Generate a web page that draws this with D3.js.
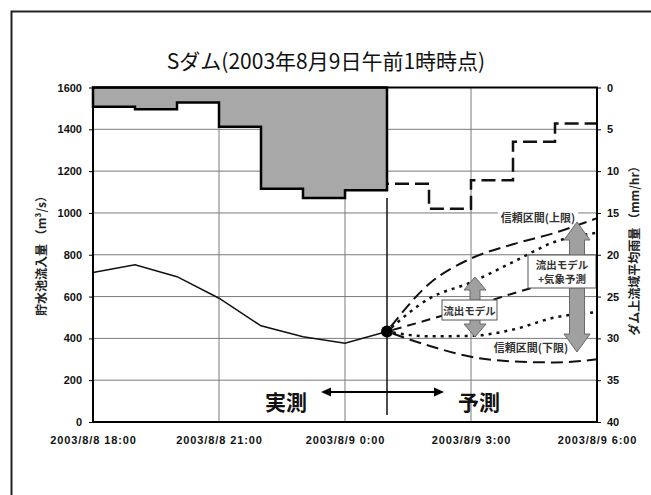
<!DOCTYPE html>
<html>
<head>
<meta charset="utf-8">
<script src="https://cdn.jsdelivr.net/npm/d3@7"></script>
<style>
  html, body { margin: 0; padding: 0; background: #fff; }
  svg { display: block; }
</style>
</head>
<body>
<svg id="chart" width="651" height="495"></svg>
<script>
// ---- data ----
const obsTimes = ["2003-08-08 18:00", "2003-08-08 19:00", "2003-08-08 20:00", "2003-08-08 21:00",
                  "2003-08-08 22:00", "2003-08-08 23:00", "2003-08-09 00:00", "2003-08-09 01:00"];
const inflowObs = [715, 752, 695, 592, 460, 408, 377, 433];          // m3/s
const rainObs = [2.3, 2.6, 1.8, 4.7, 12.1, 13.2, 12.3];               // mm/hr, hour starting at obsTimes[i]

const fcstTimes = ["2003-08-09 01:00", "2003-08-09 02:00", "2003-08-09 03:00",
                   "2003-08-09 04:00", "2003-08-09 05:00", "2003-08-09 06:00"];
const rainFcst = [11.5, 14.5, 11.1, 6.5, 4.3];                          // mm/hr, hour starting at fcstTimes[i]
const upperCI  = [433, 660, 782, 850, 905, 975];
const upperDot = [433, 590, 668, 765, 862, 905];
const midModel = [433, 490, 550, 615, 670, 710];
const lowerDot = [433, 410, 412, 442, 500, 525];
const lowerCI  = [433, 365, 312, 290, 285, 300];

const tickTimes  = ["2003-08-08 18:00", "2003-08-08 21:00", "2003-08-09 00:00", "2003-08-09 03:00", "2003-08-09 06:00"];
const tickLabels = ["2003/8/8 18:00", "2003/8/8 21:00", "2003/8/9 0:00", "2003/8/9 3:00", "2003/8/9 6:00"];
const yTicks = [0, 200, 400, 600, 800, 1000, 1200, 1400, 1600];
const rTicks = [0, 5, 10, 15, 20, 25, 30, 35, 40];

// ---- layout ----
const svg = d3.select("#chart");
const L = 93, R = 597, T = 87.5, B = 422;
const parse = d3.timeParse("%Y-%m-%d %H:%M");
const x = d3.scaleTime().domain([parse(tickTimes[0]), parse(tickTimes[tickTimes.length - 1])]).range([L, R]);
const y = d3.scaleLinear().domain([0, 1600]).range([B, T]);
const yR = d3.scaleLinear().domain([0, 40]).range([T, B]);
const JP = "'Noto Sans CJK JP', 'Noto Sans CJK SC', sans-serif";
const NUM = "'Liberation Sans', Arial, sans-serif";

// outer frame (top/left edges of the slide box)
svg.append("path").attr("d", "M11.5,495 V11.5 H651")
  .attr("fill", "none").attr("stroke", "#222").attr("stroke-width", 2);

// title
svg.append("text").attr("x", 326).attr("y", 69).attr("text-anchor", "middle")
  .style("font-family", JP).style("font-size", "21px").attr("fill", "#111")
  .text("Sダム(2003年8月9日午前1時時点)");

// grid
const grid = svg.append("g").attr("stroke", "#7a7a7a").attr("stroke-width", 1);
yTicks.slice(1, -1).forEach(v => grid.append("line")
  .attr("x1", L).attr("x2", R).attr("y1", y(v)).attr("y2", y(v)));
tickTimes.slice(1, -1).forEach(t => grid.append("line")
  .attr("x1", x(parse(t))).attr("x2", x(parse(t))).attr("y1", T).attr("y2", B));

// observed rainfall, hanging from the top
const rainPts = obsTimes.map((t, i) => ({ t: parse(t), v: rainObs[Math.min(i, rainObs.length - 1)] }));
const rainArea = d3.area().curve(d3.curveStepAfter)
  .x(d => x(d.t)).y0(yR(0)).y1(d => yR(d.v));
svg.append("path").datum(rainPts).attr("d", rainArea)
  .attr("fill", "#a8a8a8").attr("stroke", "#000").attr("stroke-width", 2.5);

// forecast rainfall (dashed steps)
const rainF = fcstTimes.map((t, i) => ({ t: parse(t), v: rainFcst[Math.min(i, rainFcst.length - 1)] }));
svg.append("path").datum(rainF)
  .attr("d", d3.line().curve(d3.curveStepAfter).x(d => x(d.t)).y(d => yR(d.v)))
  .attr("fill", "none").attr("stroke", "#111").attr("stroke-width", 2.5)
  .attr("stroke-dasharray", "14,6").attr("stroke-dashoffset", -8);

// confidence interval labels
const nowX = x(parse(obsTimes[obsTimes.length - 1]));
function label(txt, cx, cy, bg) {
  const g = svg.append("g");
  const t = g.append("text").attr("x", cx).attr("y", cy).attr("text-anchor", "middle")
    .attr("dominant-baseline", "central")
    .style("font-family", JP).style("font-size", "11px").style("font-weight", "bold")
    .attr("fill", "#333").text(txt);
  if (bg) {
    const bb = t.node().getBBox();
    g.insert("rect", "text").attr("x", bb.x - 3).attr("y", bb.y).attr("width", bb.width + 6)
      .attr("height", bb.height).attr("fill", "#fff");
  }
}
label("信頼区間(上限)", 538, 217, true);
label("信頼区間(下限)", 531, 347, true);

// forecast inflow bands
const fSeries = [
  { vals: upperCI,  dash: "12,6", w: 2 },
  { vals: upperDot, dash: "3,5",  w: 2.5 },
  { vals: midModel, dash: "9,6",  w: 2 },
  { vals: lowerDot, dash: "3,5",  w: 2.5 },
  { vals: lowerCI,  dash: "12,6", w: 2 }
];
const fLine = d3.line().curve(d3.curveMonotoneX).x(d => x(d.t)).y(d => y(d.v));
fSeries.forEach(s => {
  svg.append("path").datum(fcstTimes.map((t, i) => ({ t: parse(t), v: s.vals[i] })))
    .attr("d", fLine).attr("fill", "none").attr("stroke", "#111")
    .attr("stroke-width", s.w).attr("stroke-dasharray", s.dash).attr("stroke-dashoffset", -6);
});

// observed inflow
svg.append("path").datum(obsTimes.map((t, i) => ({ t: parse(t), v: inflowObs[i] })))
  .attr("d", d3.line().x(d => x(d.t)).y(d => y(d.v)))
  .attr("fill", "none").attr("stroke", "#111").attr("stroke-width", 1.5);

// present time marker
svg.append("line").attr("x1", nowX).attr("x2", nowX).attr("y1", 198).attr("y2", 415)
  .attr("stroke", "#111").attr("stroke-width", 1.5);
svg.append("circle").attr("cx", nowX).attr("cy", y(inflowObs[inflowObs.length - 1])).attr("r", 6)
  .attr("fill", "#000");

// gray double arrows with boxes
function dblArrow(cx, y1, y2, shaft, head, headH) {
  const s = shaft / 2, h = head / 2;
  const d = `M${cx},${y1} L${cx + h},${y1 + headH} L${cx + s},${y1 + headH} L${cx + s},${y2 - headH}
    L${cx + h},${y2 - headH} L${cx},${y2} L${cx - h},${y2 - headH} L${cx - s},${y2 - headH}
    L${cx - s},${y1 + headH} L${cx - h},${y1 + headH} Z`;
  svg.append("path").attr("d", d).attr("fill", "#a0a0a0").attr("stroke", "#6a6a6a").attr("stroke-width", 1);
}
function box(x0, y0, w, h, lines) {
  svg.append("rect").attr("x", x0).attr("y", y0).attr("width", w).attr("height", h)
    .attr("fill", "#fff").attr("stroke", "#555").attr("stroke-width", 1);
  const lh = 14;
  lines.forEach((l, i) => svg.append("text")
    .attr("x", x0 + w / 2).attr("y", y0 + h / 2 + (i - (lines.length - 1) / 2) * lh)
    .attr("text-anchor", "middle").attr("dominant-baseline", "central")
    .style("font-family", JP).style("font-size", "10.5px").style("font-weight", "bold")
    .attr("fill", "#333").text(l));
}
dblArrow(475, 277, 337, 10, 22, 13);
box(442, 300, 55, 20, ["流出モデル"]);
dblArrow(577, 222, 352, 15, 26, 18);
box(528, 255, 68, 33, ["流出モデル", "+気象予測"]);

// observed / forecast arrow
const aY = 392;
svg.append("line").attr("x1", 328).attr("x2", 437).attr("y1", aY).attr("y2", aY)
  .attr("stroke", "#000").attr("stroke-width", 2);
svg.append("path").attr("d", `M321,${aY} L331,${aY - 4.5} L331,${aY + 4.5} Z`).attr("fill", "#000");
svg.append("path").attr("d", `M444,${aY} L434,${aY - 4.5} L434,${aY + 4.5} Z`).attr("fill", "#000");
[["実測", 286], ["予測", 479]].forEach(([t, cx]) => svg.append("text")
  .attr("x", cx).attr("y", 401).attr("text-anchor", "middle").attr("dominant-baseline", "central")
  .style("font-family", JP).style("font-size", "21px").style("font-weight", "bold")
  .attr("fill", "#111").text(t));

// axes
function styleAxis(g) {
  g.select(".domain").remove();
  g.attr("font-family", NUM).attr("font-size", 11).attr("font-weight", "bold");
  g.selectAll("line").attr("stroke", "#000");
  g.selectAll("text").attr("fill", "#111");
}
svg.append("g").attr("transform", `translate(${L},0)`)
  .call(d3.axisLeft(y).tickValues(yTicks).tickFormat(d3.format("d")).tickSize(4).tickPadding(7))
  .call(styleAxis);
svg.append("g").attr("transform", `translate(${R},0)`)
  .call(d3.axisRight(yR).tickValues(rTicks).tickFormat(d3.format("d")).tickSize(4).tickPadding(6))
  .call(styleAxis);
const xAx = svg.append("g").attr("transform", `translate(0,${B})`)
  .call(d3.axisBottom(x).tickValues(tickTimes.map(parse)).tickSize(0).tickPadding(14)
    .tickFormat((d, i) => tickLabels[i]))
  .call(styleAxis);
xAx.selectAll("text").attr("letter-spacing", "0.9px");

// plot frame
svg.append("rect").attr("x", L).attr("y", T).attr("width", R - L).attr("height", B - T)
  .attr("fill", "none").attr("stroke", "#000").attr("stroke-width", 2);

// axis titles (both read bottom to top)
svg.append("text").attr("transform", "translate(40,253) rotate(-90)")
  .attr("text-anchor", "middle").attr("dominant-baseline", "central")
  .style("font-family", JP).style("font-size", "12px").style("font-weight", "bold")
  .attr("fill", "#222").text("貯水池流入量 （m³/s）");
svg.append("text").attr("transform", "translate(633,248) rotate(-90)")
  .attr("text-anchor", "middle").attr("dominant-baseline", "central")
  .style("font-family", JP).style("font-size", "12px").style("font-weight", "bold")
  .attr("fill", "#222").text("ダム上流域平均雨量 （mm/hr）");
</script>
</body>
</html>
